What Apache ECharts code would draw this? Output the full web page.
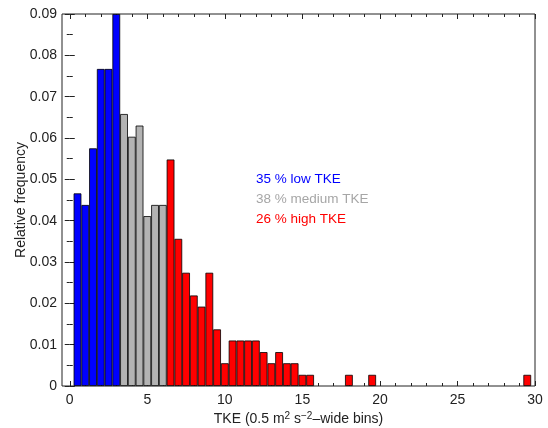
<!DOCTYPE html>
<html>
<head>
<meta charset="utf-8">
<script src="https://cdn.jsdelivr.net/npm/echarts@6/dist/echarts.min.js"></script>
<style>
  html, body { margin: 0; padding: 0; background: #fff; }
  #chart { width: 548px; height: 428px; }
</style>
</head>
<body>
<div id="chart"></div>
<script>
// bin centres (TKE, 0.5-wide bins) and relative frequencies
const lowBins = [0.5, 1, 1.5, 2, 2.5, 3];
const lowFreq = [0.0466, 0.0438, 0.0575, 0.0767, 0.0767, 0.0900];

const midBins = [3.5, 4, 4.5, 5, 5.5, 6];
const midFreq = [0.0658, 0.0603, 0.0630, 0.0411, 0.0438, 0.0438];

const highBins = [6.5, 7, 7.5, 8, 8.5, 9, 9.5, 10, 10.5, 11, 11.5, 12, 12.5, 13, 13.5, 14, 14.5, 15, 15.5, 18, 19.5, 29.5];
const highFreq = [0.0548, 0.0356, 0.0274, 0.0219, 0.0192, 0.0274, 0.0137, 0.0055, 0.0110, 0.0110, 0.0110, 0.0110, 0.0082, 0.0055, 0.0082, 0.0055, 0.0055, 0.0027, 0.0027, 0.0027, 0.0027, 0.0027];

const xMajorTicks = [0, 5, 10, 15, 20, 25, 30];
const xMinorTicks = [1, 2, 3, 4, 6, 7, 8, 9, 11, 12, 13, 14, 16, 17, 18, 19, 21, 22, 23, 24, 26, 27, 28, 29];

const groupLabels = ['35 % low TKE', '38 % medium TKE', '26 % high TKE'];

const FONT = '"Liberation Sans", Arial, Helvetica, sans-serif';
const AXIS_COLOR = '#222';

function pairs(xs, ys) {
    return xs.map((x, i) => [x, ys[i]]);
}

function xAxisDef(position, ticks, len, withLabels) {
    return {
        type: 'value',
        position: position,
        min: -0.5,
        max: 30,
        axisLine: { show: false },
        splitLine: { show: false },
        axisTick: {
            show: true, inside: true, length: len, customValues: ticks,
            lineStyle: { color: AXIS_COLOR, width: 1 }
        },
        axisLabel: withLabels ? {
            show: true, customValues: ticks, margin: 7,
            color: AXIS_COLOR, fontSize: 14, fontFamily: FONT
        } : { show: false }
    };
}

function yAxisDef(position, withLabels) {
    return {
        type: 'value',
        position: position,
        min: 0,
        max: 0.09,
        interval: 0.01,
        axisLine: { show: false },
        splitLine: { show: false },
        axisTick: { show: true, inside: true, length: 5, lineStyle: { color: AXIS_COLOR } },
        minorTick: { show: true, splitNumber: 2, length: 3, lineStyle: { color: AXIS_COLOR } },
        minorSplitLine: { show: false },
        axisLabel: withLabels ? {
            show: true, margin: 5, color: AXIS_COLOR, fontSize: 14, fontFamily: FONT,
            formatter: v => (v === 0 ? '0' : v.toFixed(2))
        } : { show: false }
    };
}

function barSeries(name, xs, ys, color) {
    return {
        name: name,
        type: 'bar',
        xAxisIndex: 0,
        yAxisIndex: 0,
        data: pairs(xs, ys),
        barWidth: '100%',
        barGap: '-100%',
        itemStyle: { color: color, borderColor: '#000', borderWidth: 0.8 },
        emphasis: { disabled: true },
        silent: true
    };
}

const chart = echarts.init(document.getElementById('chart'), null, { renderer: 'canvas' });

const bottomMajor = xAxisDef('bottom', xMajorTicks, 5, true);
bottomMajor.name = 'TKE (0.5 m{sup|2} s{sup|\u22122}\u2013wide bins)';
bottomMajor.nameLocation = 'middle';
bottomMajor.nameGap = 25;
bottomMajor.nameMoveOverlap = false;
bottomMajor.nameTextStyle = {
    color: AXIS_COLOR, fontSize: 14, fontFamily: FONT,
    rich: { sup: { fontSize: 10, fontFamily: FONT, color: AXIS_COLOR, verticalAlign: 'top', padding: [0, 0, 6, 0] } }
};

const leftAxis = yAxisDef('left', true);
leftAxis.name = 'Relative frequency';
leftAxis.nameLocation = 'middle';
leftAxis.nameGap = 34;
leftAxis.nameMoveOverlap = false;
leftAxis.nameTextStyle = { color: AXIS_COLOR, fontSize: 14, fontFamily: FONT };

chart.setOption({
    backgroundColor: '#fff',
    animation: false,
    grid: {
        left: 62, top: 14, right: 13, bottom: 42,
        outerBoundsMode: 'none', containLabel: false,
        show: true, borderColor: AXIS_COLOR, borderWidth: 1, backgroundColor: 'transparent'
    },
    xAxis: [
        bottomMajor,
        xAxisDef('bottom', xMinorTicks, 3, false),
        xAxisDef('top', xMajorTicks, 5, false),
        xAxisDef('top', xMinorTicks, 3, false)
    ],
    yAxis: [leftAxis, yAxisDef('right', false)],
    series: [
        barSeries('low', lowBins, lowFreq, '#0000ff'),
        barSeries('medium', midBins, midFreq, '#b3b3b3'),
        barSeries('high', highBins, highFreq, '#ff0000')
    ],
    graphic: [
        { type: 'text', left: 256, top: 172, silent: true,
          style: { text: groupLabels[0], fill: '#0000ff', fontSize: 13.5, fontFamily: FONT } },
        { type: 'text', left: 256, top: 192, silent: true,
          style: { text: groupLabels[1], fill: '#a6a6a6', fontSize: 13.5, fontFamily: FONT } },
        { type: 'text', left: 256, top: 212, silent: true,
          style: { text: groupLabels[2], fill: '#ff0000', fontSize: 13.5, fontFamily: FONT } }
    ]
});
</script>
</body>
</html>
